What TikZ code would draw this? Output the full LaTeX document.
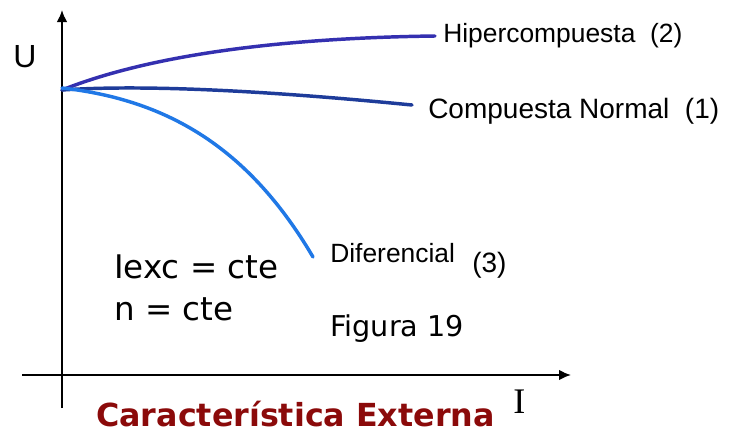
\documentclass[tikz,border=0pt]{standalone}
\usepackage{fontspec}
\setmainfont{Liberation Sans}
\newfontfamily\verd{DejaVu Sans}
\newfontfamily\timesI{Liberation Serif}
\usetikzlibrary{arrows.meta}
\definecolor{hiper}{HTML}{3430B0}
\definecolor{normal}{HTML}{1E3C9A}
\definecolor{difer}{HTML}{2078E6}
\definecolor{titulo}{HTML}{8B0A0A}
\begin{document}
\begin{tikzpicture}[x=0.75pt, y=-0.75pt,
  axis/.style={line width=1.5pt, -{Latex[length=9pt,width=8pt]}},
  curva/.style={line width=2.6pt, line cap=round},
  lbl/.style={anchor=base west, inner sep=0pt}]
\useasboundingbox (0,0) rectangle (734,432);

% ejes
\coordinate (o) at (62,90);
\coordinate (ybot) at (62,408);
\coordinate (ytop) at (62,10);
\coordinate (xleft) at (22,375);
\coordinate (xright) at (571,375);
\draw[axis] (ybot) -- (ytop);
\draw[axis] (xleft) -- (xright);

\node[lbl] (u) at (13,67) {\fontsize{24pt}{26pt}\selectfont U};
\node[lbl] (i) at (513,413) {\fontsize{27pt}{28pt}\selectfont\timesI I};

% curvas
\coordinate (h) at (435,36);
\coordinate (n) at (412,105);
\coordinate (d) at (313,257);
\draw[curva, hiper] (o) .. controls (150,55) and (280,38) .. (h);
\draw[curva, normal] (o) .. controls (150,84) and (280,92) .. (n);
\draw[curva, difer] ([yshift=1.5pt]o) .. controls (170,100) and (250,150) .. (d);

\node[lbl] (lh) at (443,42) {\fontsize{19.8pt}{21pt}\selectfont Hipercompuesta\ \ (2)};
\node[lbl] (ln) at (428,118) {\fontsize{21pt}{22pt}\selectfont Compuesta Normal\ \ (1)};
\node[lbl] (ld) at (330,262) {\fontsize{19.8pt}{21pt}\selectfont Diferencial};
\node[lbl] (l3) at (472,272) {\fontsize{21pt}{22pt}\selectfont (3)};

% condiciones
\node[lbl] (c1) at (114,278) {\fontsize{24.4pt}{26pt}\selectfont\verd Iexc = cte};
\node[lbl] (c2) at (114,320) {\fontsize{24.4pt}{26pt}\selectfont\verd n = cte};
\node[lbl] (fig) at (330,336) {\fontsize{21.5pt}{23pt}\selectfont\verd Figura 19};

\node[lbl, text=titulo] (tit) at (96,426) {\fontsize{23.8pt}{25pt}\selectfont\verd\bfseries Característica Externa};

\end{tikzpicture}
\end{document}
